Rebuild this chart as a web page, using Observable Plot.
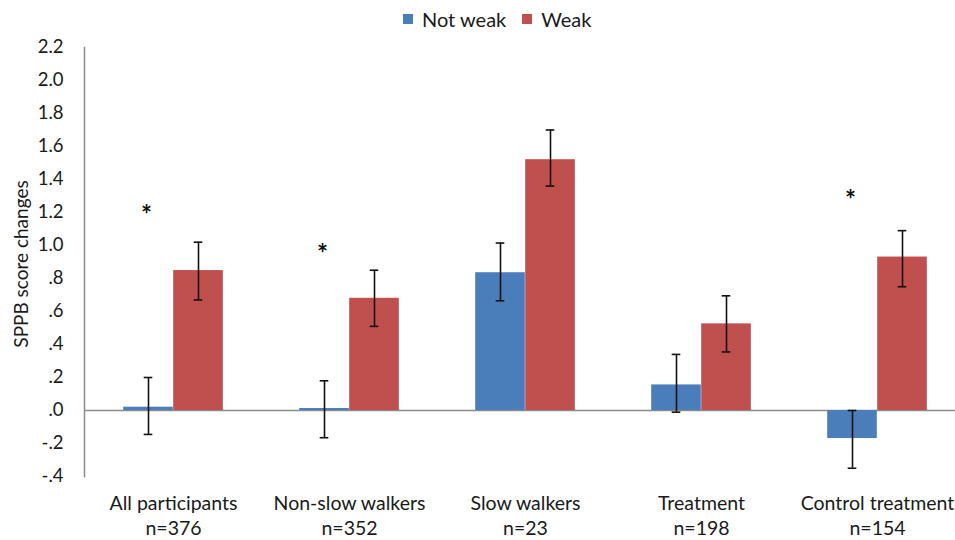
<!DOCTYPE html>
<html>
<head>
<meta charset="utf-8">
<script src="https://cdn.jsdelivr.net/npm/d3@7"></script>
<script src="https://cdn.jsdelivr.net/npm/@observablehq/plot@0.6"></script>
<style>
  html, body { margin: 0; padding: 0; background: #fff; }
  body { width: 955px; height: 540px; overflow: hidden; font-family: Lato, "Open Sans", sans-serif; color: #1a1a1a; }
  #legend { height: 38px; display: flex; align-items: center; padding-left: 403px; box-sizing: border-box; font-size: 20px; }
  .sw { width: 10px; height: 10px; display: inline-block; margin-right: 9px; }
  .item { display: flex; align-items: center; margin-right: 16px; }
</style>
</head>
<body>
<div id="legend"></div>
<div id="chart"></div>
<script>
// ---- data ----
const categories = ["All participants", "Non-slow walkers", "Slow walkers", "Treatment", "Control treatment"];
const sampleSizes = ["n=376", "n=352", "n=23", "n=198", "n=154"];
const series = ["Not weak", "Weak"];
const seriesColors = ["#4a7ebb", "#c0504d"];

const notWeak     = [0.02, 0.012, 0.835, 0.155, -0.17];
const notWeakLow  = [-0.145, -0.165, 0.665, -0.01, -0.35];
const notWeakHigh = [0.20, 0.18, 1.015, 0.34, 0.0];

const weak     = [0.848, 0.68, 1.52, 0.525, 0.93];
const weakLow  = [0.67, 0.51, 1.36, 0.355, 0.75];
const weakHigh = [1.02, 0.85, 1.70, 0.695, 1.09];

const significant = [true, true, false, false, true];
const asteriskY = [1.22, 0.98, null, null, 1.31];

const yTicks = [-0.4, -0.2, 0, 0.2, 0.4, 0.6, 0.8, 1.0, 1.2, 1.4, 1.6, 1.8, 2.0, 2.2];
const yTickLabels = ["-.4", "-.2", ".0", ".2", ".4", ".6", ".8", "1.0", "1.2", "1.4", "1.6", "1.8", "2.0", "2.2"];

// ---- tables built from arrays ----
const nwRows = categories.map((c, i) => ({category: c, value: notWeak[i], lo: notWeakLow[i], hi: notWeakHigh[i]}));
const wRows = categories.map((c, i) => ({category: c, value: weak[i], lo: weakLow[i], hi: weakHigh[i]}));
const catRows = categories.map((c, i) => ({category: c, label: c + "\n" + sampleSizes[i]}));
const starRows = categories.map((c, i) => ({category: c, y: asteriskY[i], sig: significant[i]})).filter(d => d.sig);

// ---- legend ----
const legend = document.getElementById("legend");
series.forEach((s, i) => {
  const item = document.createElement("span");
  item.className = "item";
  item.innerHTML = `<span class="sw" style="background:${seriesColors[i]}"></span>${s}`;
  legend.appendChild(item);
});

// ---- chart ----
const xRange = [84, 966];
const bw = (xRange[1] - xRange[0]) / categories.length;
const barW = 50;
const barInset = (bw - barW) / 2;
const capW = 9;
const capInset = (bw - capW) / 2;
const axisColor = "#8c8c8c";

const chart = Plot.plot({
  width: 955,
  height: 502,
  marginTop: 9,
  marginBottom: 64,
  marginLeft: 84,
  marginRight: 0,
  style: {fontFamily: "Lato, 'Open Sans', sans-serif", fontSize: "17px", color: "#1a1a1a", background: "white", overflow: "visible"},
  x: {domain: categories, range: xRange, padding: 0, axis: null},
  y: {domain: [-0.4, 2.2], axis: null},
  marks: [
    Plot.frame({anchor: "left", stroke: axisColor, strokeWidth: 1.5}),
    Plot.axisY({
      ticks: yTicks,
      tickFormat: d => yTickLabels[yTicks.findIndex(t => Math.abs(t - d) < 1e-9)],
      tickSize: 0, tickPadding: 21, fontSize: 18.5, label: null
    }),
    Plot.text(["SPPB score changes"], {frameAnchor: "left", textAnchor: "middle", dx: -63, dy: 2, rotate: -90, fontSize: 19, fill: "#1a1a1a"}),
    Plot.ruleY([0], {stroke: axisColor, strokeWidth: 1.5}),
    Plot.barY(nwRows, {x: "category", y: "value", fill: seriesColors[0], insetLeft: barInset, insetRight: barInset, dx: -barW / 2}),
    Plot.barY(wRows, {x: "category", y: "value", fill: seriesColors[1], insetLeft: barInset, insetRight: barInset, dx: barW / 2}),
    Plot.ruleX(nwRows, {x: "category", y1: "lo", y2: "hi", stroke: "#111", strokeWidth: 1.6, dx: -barW / 2}),
    Plot.ruleX(wRows, {x: "category", y1: "lo", y2: "hi", stroke: "#111", strokeWidth: 1.6, dx: barW / 2}),
    Plot.tickY(nwRows, {x: "category", y: "lo", stroke: "#111", strokeWidth: 1.6, insetLeft: capInset, insetRight: capInset, dx: -barW / 2}),
    Plot.tickY(nwRows, {x: "category", y: "hi", stroke: "#111", strokeWidth: 1.6, insetLeft: capInset, insetRight: capInset, dx: -barW / 2}),
    Plot.tickY(wRows, {x: "category", y: "lo", stroke: "#111", strokeWidth: 1.6, insetLeft: capInset, insetRight: capInset, dx: barW / 2}),
    Plot.tickY(wRows, {x: "category", y: "hi", stroke: "#111", strokeWidth: 1.6, insetLeft: capInset, insetRight: capInset, dx: barW / 2}),
    Plot.text(starRows, {x: "category", y: "y", text: () => "*", fontSize: 26, dx: -barW / 2 - 2, dy: 6, fill: "#111", fontWeight: "bold"}),
    Plot.text(catRows, {x: "category", text: "label", frameAnchor: "bottom", lineAnchor: "top", dy: 16, lineHeight: 1.27, fontSize: 19.5, fill: "#1a1a1a"})
  ]
});
document.getElementById("chart").appendChild(chart);
</script>
</body>
</html>
